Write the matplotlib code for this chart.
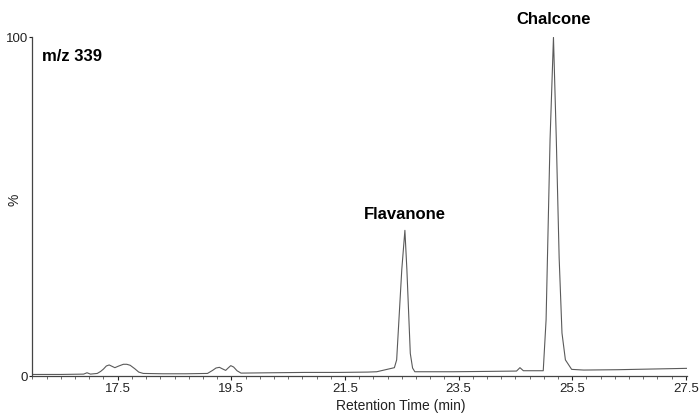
import matplotlib.pyplot as plt
from matplotlib.ticker import MultipleLocator

# chromatogram trace (retention time in min, relative intensity in %)
rt = [16.0, 16.5, 16.9, 16.96, 17.02, 17.14, 17.20, 17.25, 17.30, 17.35,
      17.40, 17.45, 17.52, 17.60, 17.66, 17.72, 17.80, 17.87, 17.95, 18.3,
      18.7, 19.08, 19.17, 19.23, 19.29, 19.35, 19.40, 19.45, 19.49, 19.54,
      19.60, 19.67, 20.2, 20.8, 21.4, 21.9, 22.06, 22.37, 22.41, 22.50,
      22.555, 22.59, 22.65, 22.69, 22.73, 22.85, 23.4, 24.0, 24.52, 24.58,
      24.64, 24.99, 25.04, 25.11, 25.17, 25.22, 25.27, 25.32, 25.38, 25.49,
      25.7, 26.3, 26.9, 27.52]
intensity = [0.6, 0.6, 0.7, 1.1, 0.7, 0.9, 1.5, 2.2, 3.1, 3.4,
             3.0, 2.6, 3.1, 3.6, 3.6, 3.3, 2.3, 1.3, 0.9, 0.8,
             0.8, 0.9, 1.8, 2.5, 2.7, 2.2, 1.8, 2.6, 3.2, 2.8,
             1.7, 1.0, 1.1, 1.2, 1.2, 1.3, 1.4, 2.6, 4.9, 31.5,
             43.1, 31.5, 6.8, 2.5, 1.4, 1.4, 1.4, 1.5, 1.6, 2.6,
             1.7, 1.7, 16.7, 69.9, 100.0, 69.9, 35.0, 12.8, 4.9, 2.1,
             1.9, 2.0, 2.2, 2.4]

peak_names = ["Flavanone", "Chalcone"]
peak_rt = [22.555, 25.17]
peak_label_y = [47.7, 105.3]

xticks = [17.5, 19.5, 21.5, 23.5, 25.5, 27.5]

plt.rcParams['font.family'] = ['Liberation Sans', 'DejaVu Sans']

fig = plt.figure(figsize=(7, 4.13), dpi=100)
ax = fig.add_axes([0.0464, 0.0884, 0.935, 0.821])

ax.plot(rt, intensity, color='#5a5a5a', lw=0.8)

ax.set_xlim(16.0, 27.52)
ax.set_ylim(0, 100)
ax.set_xticks(xticks)
ax.set_xticklabels([f"{t:.1f}" for t in xticks])
ax.xaxis.set_minor_locator(MultipleLocator(0.25))
ax.set_yticks([0, 100])
ax.set_yticklabels(["0", "100"])

ax.tick_params(axis='x', which='major', length=3, width=0.8, pad=2, labelsize=9.5, colors='#222222')
ax.tick_params(axis='x', which='minor', length=2, width=0.6, colors='#555555')
ax.tick_params(axis='y', length=2, width=0.8, pad=1, labelsize=9.5, colors='#222222')

for s in ['top', 'right']:
    ax.spines[s].set_visible(False)
for s in ['left', 'bottom']:
    ax.spines[s].set_color('#444444')
    ax.spines[s].set_linewidth(0.9)

ax.set_xlabel("Retention Time (min)", fontsize=10, color='#222222')
ax.xaxis.set_label_coords(0.563, -0.067)
ax.set_ylabel("%", fontsize=10, color='#222222')
ax.yaxis.set_label_coords(-0.017, 0.52)

ax.text(16.17, 94.4, "m/z 339", fontsize=12, fontweight='bold', ha='left', va='center')
for name, t, y in zip(peak_names, peak_rt, peak_label_y):
    ax.text(t, y, name, fontsize=12, fontweight='bold', ha='center', va='center', clip_on=False)

fig.savefig("out.png", dpi=100)
